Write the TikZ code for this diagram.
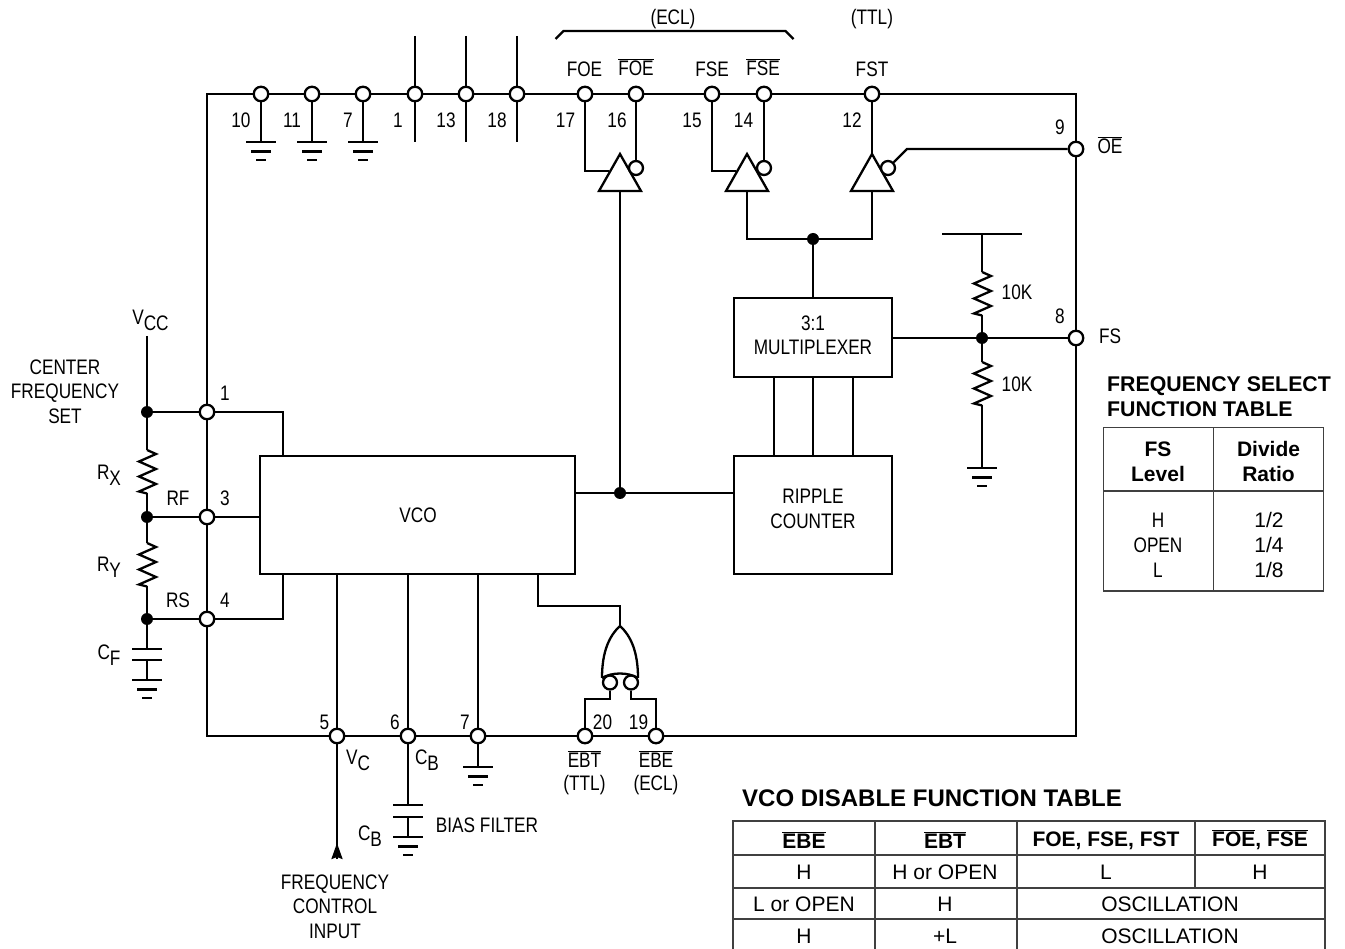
\documentclass[tikz,border=0pt]{standalone}
\usepackage{fontspec}
\setmainfont{Liberation Sans}
\newfontfamily\condfont[FakeStretch=0.82]{Liberation Sans}
\usetikzlibrary{arrows.meta}

\newcommand{\lblfont}{\condfont\fontsize{21}{24.4}\selectfont}
\newcommand{\tblfont}{\fontsize{21}{25}\selectfont}
\newcommand{\hdrfont}{\bfseries\fontsize{21}{25}\selectfont}
\newcommand{\ovl}[1]{$\overline{\hbox{#1}}$}
\newcommand{\lowsub}[2]{#1\raisebox{-6pt}{#2}}

\newcommand{\gnd}[1]{
  \draw[wire] (#1) ++(-15,0) -- ++(30,0);
  \draw[wire] (#1) ++(-10,9.5) -- ++(20,0);
  \draw[wire] (#1) ++(-5,18) -- ++(10,0);
}
\newcommand{\resbody}[1]{
  \draw[wire] (#1) -- ++(9,4) -- ++(-17,7.5) -- ++(17,7.5) -- ++(-17,7.5) -- ++(17,7.5) -- ++(-17,7.5) -- ++(8,2);
}
\newcommand{\bufgate}[1]{
  \draw[wire] (#1) -- ++(21,37) -- ++(-42,0) -- cycle;
}

\tikzset{
  wire/.style={line width=2.3pt},
  thinrule/.style={line width=1.3pt, black!75},
  pin/.style={circle, draw, line width=2.3pt, fill=white, minimum size=14.5pt, inner sep=0pt},
  bubble/.style={circle, draw, line width=2.3pt, fill=white, minimum size=14pt, inner sep=0pt},
  dot/.style={circle, fill=black, minimum size=12pt, inner sep=0pt},
  box/.style={draw, line width=2.3pt, inner sep=0pt, outer sep=0pt},
  lbl/.style={inner sep=0pt, align=center, font=\lblfont},
  tbl/.style={inner sep=0pt, align=center, font=\tblfont},
  hdr/.style={inner sep=0pt, align=center, font=\hdrfont},
}

\begin{document}
\begin{tikzpicture}[x=1pt,y=-1pt]
\useasboundingbox (0,0) rectangle (1345,949);

\draw[wire] (207,94) rectangle (1076,736);

% boxes
\node[box, minimum width=315pt, minimum height=118pt] (vco) at (417.5,515) {};
\node[box, minimum width=158pt, minimum height=79pt] (mux) at (813,337.5) {};
\node[box, minimum width=158pt, minimum height=118pt] (ripple) at (813,515) {};
\node[lbl] (vcotxt) at (418,515.5) {VCO};
\node[lbl] (muxtxt) at (813,335.5) {3:1\\MULTIPLEXER};
\node[lbl] (rippletxt) at (813,509) {RIPPLE\\COUNTER};

% top row of pins
\node[pin] (p10) at (261,94) {};
\node[pin] (p11) at (312,94) {};
\node[pin] (p7top) at (363,94) {};
\node[pin] (p1top) at (415,94) {};
\node[pin] (p13) at (466,94) {};
\node[pin] (p18) at (517,94) {};
\node[pin] (p17) at (585,94) {};
\node[pin] (p16) at (636,94) {};
\node[pin] (p15) at (712,94) {};
\node[pin] (p14) at (764,94) {};
\node[pin] (p12) at (872,94) {};

% right and left pins
\node[pin] (p9) at (1076,149) {};
\node[pin] (p8) at (1076,338) {};
\node[pin] (p1) at (207,412) {};
\node[pin] (p3) at (207,517) {};
\node[pin] (p4) at (207,619) {};

% bottom row of pins
\node[pin] (p5) at (337,736) {};
\node[pin] (p6) at (408,736) {};
\node[pin] (p7) at (478,736) {};
\node[pin] (p20) at (585,736) {};
\node[pin] (p19) at (656,736) {};

% junctions
\node[dot] (dvcc) at (147,412) {};
\node[dot] (drf) at (147,517) {};
\node[dot] (drs) at (147,619) {};
\node[dot] (dclk) at (620,493) {};
\node[dot] (dmux) at (813,239) {};
\node[dot] (dfs) at (982,338) {};

% grounded pins
\coordinate (g10) at (261,142);
\coordinate (g11) at (312,142);
\coordinate (g7top) at (363,142);
\draw[wire] (p10) -- (g10);
\draw[wire] (p11) -- (g11);
\draw[wire] (p7top) -- (g7top);
\gnd{g10}
\gnd{g11}
\gnd{g7top}

% supply pins
\draw[wire] (415,36) -- (p1top) -- (415,142);
\draw[wire] (466,36) -- (p13) -- (466,142);
\draw[wire] (517,36) -- (p18) -- (517,142);

% output buffers
\coordinate (b1) at (620,154);
\coordinate (b2) at (747,154);
\coordinate (b3) at (872,154);
\bufgate{b1}
\bufgate{b2}
\bufgate{b3}
\node[bubble] (inv1) at (636,168) {};
\node[bubble] (inv2) at (764,168) {};
\node[bubble] (inv3) at (888,168) {};

\draw[wire] (p17) -- (585,171) -- (609,171);
\draw[wire] (p16) -- (inv1);
\draw[wire] (p15) -- (712,171) -- (736,171);
\draw[wire] (p14) -- (inv2);
\draw[wire] (p12) -- (b3);
\draw[wire] (inv3) -- (907,149) -- (p9);

\draw[wire] (620,191) -- (dclk);
\draw[wire] (vco.east |- dclk) -- (dclk) -- (ripple.west |- dclk);
\draw[wire] (747,191) -- (747,239) -- (dmux) -- (872,239) -- (872,191);
\draw[wire] (dmux) -- (mux.north);

\draw[wire] (774,377) -- (774,456);
\draw[wire] (mux.south) -- (ripple.north);
\draw[wire] (853,377) -- (853,456);

% frequency select divider
\coordinate (fstop) at (982,234);
\coordinate (r1top) at (982,272);
\coordinate (r1bot) at (982,315);
\coordinate (r2top) at (982,362);
\coordinate (r2bot) at (982,405);
\coordinate (gfs) at (982,468);
\draw[wire] (942,234) -- (1022,234);
\draw[wire] (fstop) -- (r1top);
\resbody{r1top}
\draw[wire] (r1bot) -- (dfs) -- (r2top);
\resbody{r2top}
\draw[wire] (r2bot) -- (gfs);
\gnd{gfs}
\draw[wire] (mux.east |- dfs) -- (dfs) -- (p8);

% centre frequency network
\coordinate (vcc) at (147,336);
\coordinate (rxtop) at (147,450);
\coordinate (rxbot) at (147,493);
\coordinate (rytop) at (147,543);
\coordinate (rybot) at (147,586);
\coordinate (cftop) at (147,649);
\coordinate (cfbot) at (147,660);
\coordinate (gcf) at (147,680);
\draw[wire] (vcc) -- (dvcc) -- (rxtop);
\resbody{rxtop}
\draw[wire] (rxbot) -- (drf) -- (rytop);
\resbody{rytop}
\draw[wire] (rybot) -- (drs) -- (cftop);
\draw[wire] (132,649) -- (162,649);
\draw[wire] (132,660) -- (162,660);
\draw[wire] (cfbot) -- (gcf);
\gnd{gcf}

\draw[wire] (dvcc) -- (p1) -- (283,412) -- (283,456);
\draw[wire] (drf) -- (p3) -- (vco.west |- p3);
\draw[wire] (drs) -- (p4) -- (283,619) -- (283,574);

% pins under the vco
\coordinate (ctlend) at (337,859);
\coordinate (ctltip) at (337,843);
\draw[wire] (vco.south -| p5) -- (p5) -- (ctlend);
\draw[wire, -{Stealth[length=16pt, width=11pt, inset=2pt]}] (ctlend) -- (ctltip);

\coordinate (cbtop) at (408,805);
\coordinate (cbbot) at (408,817);
\coordinate (gcb) at (408,837);
\draw[wire] (vco.south -| p6) -- (p6) -- (cbtop);
\draw[wire] (393,805) -- (423,805);
\draw[wire] (393,817) -- (423,817);
\draw[wire] (cbbot) -- (gcb);
\gnd{gcb}

\coordinate (g7) at (478,767);
\draw[wire] (vco.south -| p7) -- (p7) -- (g7);
\gnd{g7}

% vco disable gate
\draw[wire] (538,574) -- (538,606) -- (620,606) -- (620,626);
\draw[wire] (602,678) .. controls (602,652) and (609,636) .. (620,626) .. controls (631,636) and (638,652) .. (638,678);
\draw[wire] (602,678) .. controls (612,672) and (628,672) .. (638,678);
\node[bubble] (inv20) at (610,682.5) {};
\node[bubble] (inv19) at (631,682.5) {};
\draw[wire] (inv20) -- (610,699) -- (585,699) -- (p20);
\draw[wire] (inv19) -- (631,699) -- (656,699) -- (p19);

% pin numbers
\node[lbl] (n10) at (241,120.5) {10};
\node[lbl] (n11) at (292,120.5) {11};
\node[lbl] (n7top) at (348,120.5) {7};
\node[lbl] (n1top) at (398,120.5) {1};
\node[lbl] (n13) at (446,120.5) {13};
\node[lbl] (n18) at (497,120.5) {18};
\node[lbl] (n17) at (565.5,120.5) {17};
\node[lbl] (n16) at (617,120.5) {16};
\node[lbl] (n15) at (692,120.5) {15};
\node[lbl] (n14) at (743.5,120.5) {14};
\node[lbl] (n12) at (852,120.5) {12};
\node[lbl] (n9) at (1060,127) {9};
\node[lbl] (n8) at (1060,316) {8};
\node[lbl] (n1) at (225,393) {1};
\node[lbl] (n3) at (225,498) {3};
\node[lbl] (n4) at (225,600) {4};
\node[lbl] (n5) at (324.5,722) {5};
\node[lbl] (n6) at (395,722) {6};
\node[lbl] (n7) at (465,722) {7};
\node[lbl] (n20) at (602.5,722) {20};
\node[lbl] (n19) at (638.5,722) {19};

% signal names
\node[lbl] (ecl) at (673,19) {(ECL)};
\node[lbl] (ttl) at (872,19) {(TTL)};
\draw[wire] (555.5,39) -- (563.5,31) -- (785.5,31) -- (793.5,39);
\node[lbl] (foe) at (584.5,69) {FOE};
\node[lbl] (foebar) at (636,67.5) {\ovl{FOE}};
\node[lbl] (fse) at (712,69) {FSE};
\node[lbl] (fsebar) at (763,67.5) {\ovl{FSE}};
\node[lbl] (fst) at (872,69) {FST};
\node[lbl] (oebar) at (1110,145) {\ovl{OE}};
\node[lbl] (fs) at (1110,336) {FS};
\node[lbl] (tenk1) at (1017,292) {10K};
\node[lbl] (tenk2) at (1017,384) {10K};

\node[lbl] (vcclbl) at (150.5,320) {\lowsub{V}{CC}};
\node[lbl] (center) at (65,391.5) {CENTER\\FREQUENCY\\SET};
\node[lbl] (rxlbl) at (109,475) {\lowsub{R}{X}};
\node[lbl] (rylbl) at (109,567) {\lowsub{R}{Y}};
\node[lbl] (cflbl) at (109,655) {\lowsub{C}{F}};
\node[lbl] (rf) at (178,498) {RF};
\node[lbl] (rs) at (178,600) {RS};

\node[lbl] (vclbl) at (358,760) {\lowsub{V}{C}};
\node[lbl] (cblbl1) at (427,760) {\lowsub{C}{B}};
\node[lbl] (cblbl2) at (370,836) {\lowsub{C}{B}};
\node[lbl] (bias) at (487,825) {BIAS FILTER};
\node[lbl] (fcinput) at (335,906.5) {FREQUENCY\\CONTROL\\INPUT};

\node[lbl] (ebtbar) at (584.5,759) {\ovl{EBT}};
\node[lbl] (ebtttl) at (584.5,785.5) {(TTL)};
\node[lbl] (ebebar) at (656,759) {\ovl{EBE}};
\node[lbl] (ebeecl) at (656,785.5) {(ECL)};

% frequency select table
\node[hdr, anchor=west, font=\bfseries\fontsize{21.3}{25}\selectfont] (fstitle1) at (1107,386) {FREQUENCY SELECT};
\node[hdr, anchor=west, font=\bfseries\fontsize{21.3}{25}\selectfont] (fstitle2) at (1107,409.5) {FUNCTION TABLE};
\draw[thinrule] (1103.5,427.5) rectangle (1323.5,591);
\draw[thinrule] (1213.5,427.5) -- (1213.5,591);
\draw[thinrule] (1103.5,491) -- (1323.5,491);
\node[hdr] (fslevel) at (1158,461.5) {FS\\Level};
\node[hdr] (divratio) at (1268.5,461.5) {Divide\\Ratio};
\node[lbl] (fsh) at (1158,520) {H};
\node[lbl] (fsopen) at (1158,545) {OPEN};
\node[lbl] (fsl) at (1158,570) {L};
\node[tbl] (r12) at (1269,520) {1/2};
\node[tbl] (r14) at (1269,545) {1/4};
\node[tbl] (r18) at (1269,570) {1/8};

% vco disable table
\node[hdr, anchor=west, font=\bfseries\fontsize{24}{26}\selectfont] (vcotitle) at (742,798) {VCO DISABLE FUNCTION TABLE};
\draw[thinrule] (733,949) -- (733,821) -- (1325,821) -- (1325,949);
\draw[thinrule] (733,855) -- (1325,855);
\draw[thinrule] (733,888) -- (1325,888);
\draw[thinrule] (733,919) -- (1325,919);
\draw[thinrule] (875,821) -- (875,949);
\draw[thinrule] (1017,821) -- (1017,949);
\draw[thinrule] (1195,821) -- (1195,888);

\node[hdr] (hebe) at (804,840) {\ovl{EBE}};
\node[hdr] (hebt) at (945,840) {\ovl{EBT}};
\node[hdr] (hfoe) at (1106,841) {FOE, FSE, FST};
\node[hdr] (hfoebar) at (1260,840) {\ovl{FOE}, \ovl{FSE}};
\node[tbl] (c11) at (804,872) {H};
\node[tbl] (c12) at (945,872) {H or OPEN};
\node[tbl] (c13) at (1106,872) {L};
\node[tbl] (c14) at (1260,872) {H};
\node[tbl] (c21) at (804,904) {L or OPEN};
\node[tbl] (c22) at (945,904) {H};
\node[tbl] (c23) at (1170,904) {OSCILLATION};
\node[tbl] (c31) at (804,936) {H};
\node[tbl] (c32) at (945,936) {+L};
\node[tbl] (c33) at (1170,936) {OSCILLATION};
\end{tikzpicture}
\end{document}
